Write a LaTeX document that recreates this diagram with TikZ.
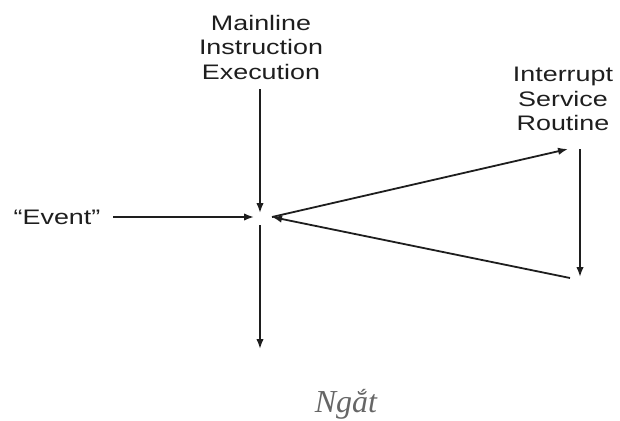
\documentclass[tikz,border=0pt]{standalone}
\usepackage{fontspec}
\usetikzlibrary{arrows.meta}
\newfontfamily\labfont[FakeStretch=1.28]{Liberation Sans}
\newfontfamily\capfont{Liberation Serif}
\definecolor{ink}{HTML}{1E1E1E}
\definecolor{capgrey}{HTML}{666666}
\begin{document}
\begin{tikzpicture}[x=1pt,y=-1pt,
  lab/.style={font=\labfont\fontsize{21}{24.5}\selectfont, align=center, inner sep=0pt, text=ink},
  conn/.style={draw=ink, line width=1.8pt, -{Latex[length=10pt,width=7.5pt]}}]
\useasboundingbox (0,0) rectangle (620,420);
% labels
\node[lab] (main) at (261,47) {Mainline\\Instruction\\Execution};
\node[lab] (isr) at (563,99) {Interrupt\\Service\\Routine};
\node[lab, anchor=center] (event) at (57,217) {“Event”};
\node[font=\capfont\itshape\fontsize{32}{32}\selectfont, text=capgrey, anchor=base, inner sep=0pt] (cap) at (346,412) {Ngắt};
% coordinates
\coordinate (mtop) at (260,89);
\coordinate (mtip) at (260,213);
\coordinate (evs) at (113,217);
\coordinate (evtip) at (254,217);
\coordinate (dstart) at (260,225);
\coordinate (dend) at (260,349);
\coordinate (cr) at (272,217);
\coordinate (rtop) at (568,149);
\coordinate (vtop) at (580,149);
\coordinate (vbot) at (580,277);
\coordinate (rbot) at (570,278);
% connectors
\draw[conn] (mtop) -- (mtip);
\draw[conn] (evs) -- (evtip);
\draw[conn] (dstart) -- (dend);
\draw[conn] (cr) -- (rtop);
\draw[conn] (vtop) -- (vbot);
\draw[conn] (rbot) -- (cr);
\end{tikzpicture}
\end{document}
